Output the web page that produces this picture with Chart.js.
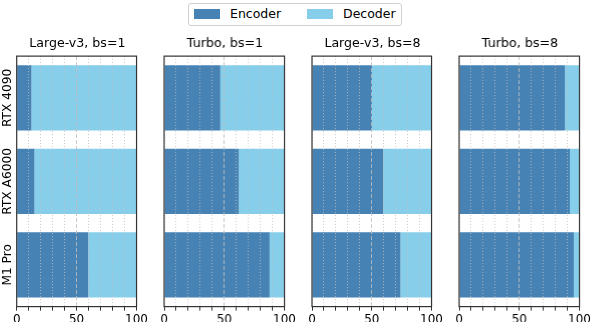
<!DOCTYPE html>
<html>
<head>
<meta charset="utf-8">
<script src="https://cdn.jsdelivr.net/npm/chart.js@4"></script>
<style>
  body { margin: 0; width: 592px; height: 322px; overflow: hidden; background: #fff; position: relative; font-family: "DejaVu Sans", sans-serif; }
  canvas { position: absolute; top: 30px; }
  #legend { position: absolute; left: 188px; top: 3px; width: 212px; height: 21px; border: 1px solid #d0d0d0; border-radius: 3px; font-size: 12.5px; }
  .patch { position: absolute; top: 5px; width: 26px; height: 10px; }
  .lab { position: absolute; top: 2px; color: #000; }
</style>
</head>
<body>
<div id="legend">
  <div class="patch" style="left:5px;background:#4682b4"></div><div class="lab" style="left:41px">Encoder</div>
  <div class="patch" style="left:118px;background:#87ceeb"></div><div class="lab" style="left:154px">Decoder</div>
</div>
<canvas id="c0"></canvas>
<canvas id="c1"></canvas>
<canvas id="c2"></canvas>
<canvas id="c3"></canvas>
<script>
// devices (rows of every panel)
var devices = ['RTX 4090', 'RTX A6000', 'M1 Pro'];
var panelTitles = ['Large-v3, bs=1', 'Turbo, bs=1', 'Large-v3, bs=8', 'Turbo, bs=8'];
var xTicks = [0, 50, 100];

// share of runtime in %
var largeBs1Enc = [12.3, 14.8, 59.7];
var largeBs1Dec = [87.7, 85.2, 40.3];
var turboBs1Enc = [46.7, 62, 87.7];
var turboBs1Dec = [53.3, 38, 12.3];
var largeBs8Enc = [50.2, 59.5, 74];
var largeBs8Dec = [49.8, 40.5, 26];
var turboBs8Enc = [87.9, 92, 95.3];
var turboBs8Dec = [12.1, 8, 4.7];

var encSeries = [largeBs1Enc, turboBs1Enc, largeBs8Enc, turboBs8Enc];
var decSeries = [largeBs1Dec, turboBs1Dec, largeBs8Dec, turboBs8Dec];

var FONT = '"DejaVu Sans", sans-serif';
var panelLeft = [16.7, 164, 311.7, 459];
var panelW = 121.7;
var canvasH = 299;

var frame = {
  id: 'frame',
  afterDraw: function(chart) {
    var ctx = chart.ctx, a = chart.chartArea;
    ctx.save();
    ctx.strokeStyle = '#333';
    ctx.lineWidth = 1.2;
    ctx.strokeRect(a.left, a.top, a.right - a.left, a.bottom - a.top);
    if (chart.options.plugins.frame.labels) {
      var y = chart.scales.y;
      ctx.fillStyle = '#000';
      ctx.font = '12.2px ' + FONT;
      ctx.textAlign = 'center';
      ctx.textBaseline = 'middle';
      devices.forEach(function(d, i) {
        ctx.save();
        ctx.translate(8, y.getPixelForValue(i));
        ctx.rotate(-Math.PI / 2);
        ctx.fillText(d, 0, 0);
        ctx.restore();
      });
    }
    ctx.restore();
  }
};

for (var i = 0; i < 4; i++) {
  var padL = i === 0 ? 16.7 : 14;
  var padR = 12;
  var cv = document.getElementById('c' + i);
  var left = panelLeft[i] - padL;
  var w = padL + panelW + padR;
  cv.style.left = left + 'px';
  cv.style.width = w + 'px';
  cv.style.height = canvasH + 'px';
  cv.width = w; cv.height = canvasH;

  new Chart(cv, {
    type: 'bar',
    data: {
      labels: devices,
      datasets: [
        { label: 'Encoder', data: encSeries[i], backgroundColor: '#4682b4', borderWidth: 0,
          categoryPercentage: 0.78, barPercentage: 1.0 },
        { label: 'Decoder', data: decSeries[i], backgroundColor: '#87ceeb', borderWidth: 0,
          categoryPercentage: 0.78, barPercentage: 1.0 }
      ]
    },
    options: {
      indexAxis: 'y',
      responsive: false,
      animation: false,
      devicePixelRatio: 1,
      layout: { padding: { left: padL, right: padR, top: 0, bottom: 0 } },
      plugins: {
        legend: { display: false },
        tooltip: { enabled: false },
        title: {
          display: true,
          text: panelTitles[i],
          color: '#000',
          font: { family: FONT, size: 12.6, weight: 'normal' },
          padding: { top: 6, bottom: 5 }
        },
        frame: { labels: i === 0 }
      },
      scales: {
        x: {
          stacked: true,
          min: 0,
          max: 100,
          border: {
            display: false,
            dash: function(c) { return c.tick && c.tick.value === 50 ? [4, 2] : [1, 2]; }
          },
          grid: {
            z: 1,
            color: 'rgba(190,190,190,0.85)',
            lineWidth: 1,
            drawTicks: true,
            tickLength: 4,
            tickColor: '#333',
            tickWidth: 1,
            tickBorderDash: []
          },
          ticks: {
            stepSize: 10,
            autoSkip: false,
            maxRotation: 0,
            padding: 2,
            color: '#000',
            font: { family: FONT, size: 12 },
            callback: function(v) { return xTicks.indexOf(v) >= 0 ? String(v) : ''; }
          }
        },
        y: {
          stacked: true,
          display: false
        }
      }
    },
    plugins: [frame]
  });
}
</script>
</body>
</html>
